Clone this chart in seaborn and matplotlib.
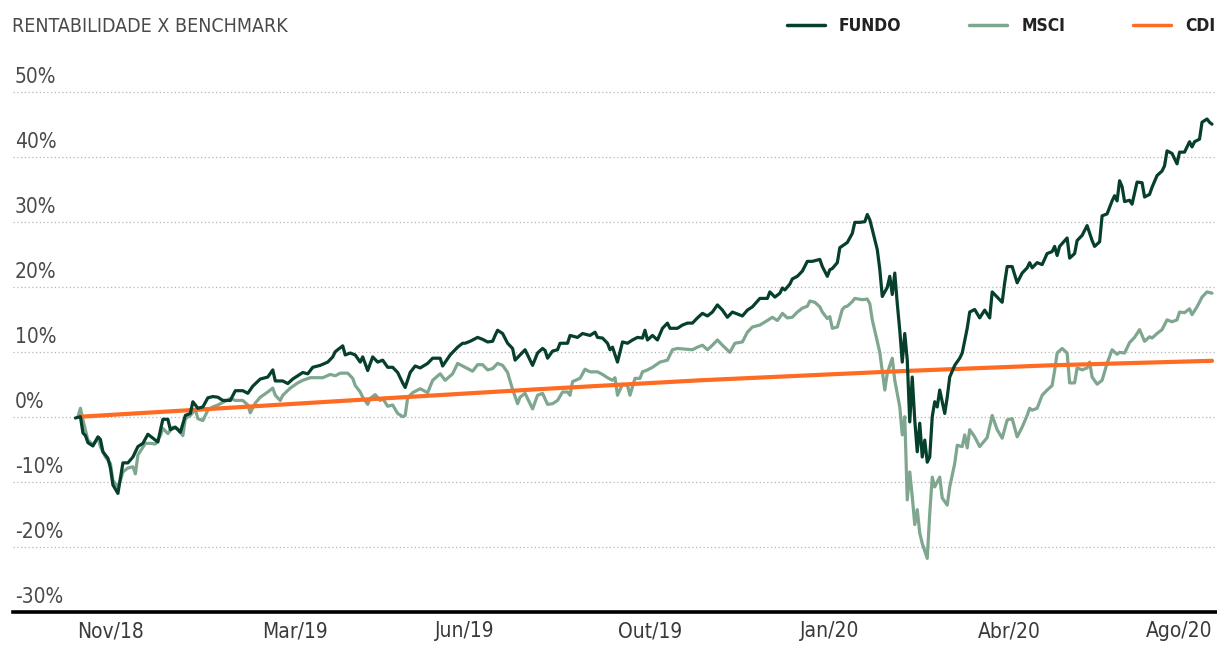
import pandas as pd
import matplotlib.pyplot as plt
import seaborn as sns

# rentabilidade acumulada (%) por pregão desde o início
dias_fundo = [0, 2, 3, 4, 5, 7, 9, 10, 11, 13, 14, 15, 17, 19, 21, 23, 25, 27, 29, 31,
              33, 34, 35, 37, 38, 40, 42, 44, 46, 47, 49, 51, 53, 55, 57, 59, 62, 64, 67, 69,
              71, 74, 77, 79, 80, 83, 85, 87, 89, 91, 93, 95, 98, 101, 103, 104, 107, 108, 110, 112,
              114, 115, 117, 119, 121, 123, 125, 127, 129, 131, 132, 134, 136, 138, 141, 143, 146, 147, 150, 153,
              155, 156, 158, 161, 163, 165, 167, 168, 169, 171, 173, 175, 176, 178, 180, 181, 183, 185, 187, 188,
              189, 191, 193, 194, 197, 198, 201, 203, 206, 208, 209, 211, 213, 214, 215, 217, 219, 221, 223, 225,
              227, 228, 229, 231, 233, 235, 237, 238, 241, 243, 245, 247, 249, 251, 253, 255, 257, 259, 261, 263,
              265, 267, 269, 271, 274, 277, 278, 280, 282, 283, 284, 286, 287, 289, 291, 293, 295, 298, 299, 301,
              302, 303, 305, 306, 309, 311, 312, 314, 316, 317, 318, 319, 321, 322, 323, 325, 326, 327, 328, 329,
              330, 331, 332, 333, 334, 335, 336, 337, 338, 339, 340, 341, 342, 343, 344, 345, 346, 347, 348, 349,
              350, 352, 354, 355, 357, 358, 360, 362, 364, 366, 367, 369, 371, 372, 373, 375, 377, 379, 381, 382,
              383, 385, 387, 389, 391, 392, 393, 394, 397, 398, 400, 401, 403, 405, 407, 408, 410, 411, 413, 415,
              416, 417, 418, 419, 420, 422, 423, 424, 425, 427, 428, 430, 431, 433, 435, 436, 437, 439, 441, 442,
              444, 446, 447, 448, 450, 451, 453, 454, 455]
fundo = [-0.2, 0.0, -2.5, -2.9, -4.0, -4.5, -3.1, -3.5, -5.4, -6.4, -7.9, -10.5, -11.8, -7.1, -7.1, -6.2, -4.6, -4.1, -2.7, -3.3,
         -3.9, -2.1, -0.4, -0.4, -2.0, -1.6, -2.4, 0.2, 0.5, 2.3, 1.3, 1.5, 2.9, 3.1, 3.0, 2.5, 2.5, 4.0, 4.0, 3.6,
         4.7, 5.8, 6.1, 7.2, 5.5, 5.5, 5.1, 5.8, 6.3, 6.8, 6.6, 7.6, 7.9, 8.4, 9.2, 10.0, 10.9, 9.5, 9.8, 9.5,
         8.4, 9.2, 7.1, 9.2, 8.4, 8.7, 7.6, 7.6, 6.8, 5.2, 4.5, 6.8, 7.8, 7.5, 8.2, 9.0, 9.0, 7.8, 9.5, 10.7,
         11.3, 11.3, 11.6, 12.2, 11.9, 11.5, 11.6, 12.5, 13.3, 12.8, 11.3, 10.5, 8.7, 9.5, 10.3, 9.5, 7.9, 9.8, 10.5, 10.2,
         9.0, 10.1, 10.3, 11.3, 11.3, 12.5, 12.2, 12.8, 12.5, 13.0, 12.2, 12.1, 11.3, 10.3, 10.7, 8.4, 11.5, 11.3, 11.8, 12.2,
         12.1, 13.3, 11.8, 12.5, 11.8, 13.6, 14.4, 13.6, 13.6, 14.1, 14.4, 14.4, 15.2, 15.9, 15.5, 16.1, 17.2, 16.4, 15.3, 16.1,
         15.8, 15.5, 16.4, 16.9, 18.2, 18.2, 19.2, 18.4, 19.0, 19.8, 19.5, 20.4, 21.2, 21.6, 22.4, 23.9, 23.9, 24.2, 23.1, 21.6,
         22.6, 22.8, 23.7, 26.0, 26.8, 28.2, 29.9, 29.9, 30.0, 31.1, 30.3, 28.8, 25.7, 22.7, 18.5, 19.9, 21.6, 18.8, 22.1, 17.4,
         13.3, 8.4, 12.8, 8.7, -0.8, 6.1, -0.5, -5.4, -1.0, -6.2, -3.6, -7.0, -6.2, 0.0, 2.3, 1.5, 4.1, 2.3, 0.5, 3.0,
         6.1, 7.9, 9.0, 9.8, 13.6, 16.1, 16.5, 15.2, 16.4, 15.2, 19.2, 18.4, 17.6, 20.6, 23.1, 23.1, 20.6, 22.1, 22.9, 23.7,
         22.9, 23.7, 23.4, 25.1, 25.4, 26.2, 24.8, 26.2, 27.5, 24.4, 25.1, 27.1, 27.9, 29.4, 27.1, 26.2, 26.9, 30.9, 31.2, 33.2,
         34.0, 33.2, 36.3, 35.4, 33.1, 33.3, 32.7, 34.4, 36.1, 36.0, 33.8, 34.2, 35.3, 37.1, 37.8, 38.6, 40.9, 40.5, 38.9, 40.7,
         40.7, 42.3, 41.5, 42.3, 42.7, 45.3, 45.8, 45.3, 45.0]

dias_msci = [1, 2, 3, 5, 7, 9, 10, 12, 14, 15, 17, 18, 19, 21, 23, 24, 25, 28, 30, 32,
             34, 35, 37, 39, 41, 43, 44, 46, 48, 49, 51, 53, 55, 57, 60, 62, 64, 67, 69, 70,
             72, 74, 77, 79, 80, 82, 83, 86, 89, 91, 94, 97, 99, 102, 104, 106, 109, 111, 112, 114,
             115, 117, 118, 120, 122, 123, 125, 127, 129, 131, 132, 133, 135, 138, 141, 143, 146, 148, 151, 153,
             156, 159, 161, 163, 165, 167, 169, 171, 173, 175, 177, 178, 180, 181, 183, 185, 187, 189, 191, 193,
             195, 197, 198, 199, 202, 204, 206, 209, 211, 213, 215, 216, 217, 219, 221, 222, 224, 226, 227, 229,
             231, 234, 237, 239, 241, 244, 247, 249, 251, 253, 255, 257, 259, 262, 264, 267, 269, 271, 274, 277,
             279, 281, 282, 283, 285, 287, 289, 291, 293, 294, 296, 298, 299, 301, 302, 303, 305, 307, 308, 309,
             311, 312, 315, 317, 318, 319, 322, 324, 325, 327, 328, 330, 331, 332, 333, 334, 335, 336, 337, 338,
             339, 341, 342, 343, 344, 346, 347, 349, 350, 352, 353, 355, 356, 357, 358, 360, 362, 365, 367, 369,
             371, 373, 375, 377, 379, 381, 382, 383, 385, 387, 389, 391, 392, 393, 395, 397, 398, 400, 401, 403,
             405, 406, 407, 409, 411, 413, 415, 417, 418, 420, 422, 424, 426, 428, 430, 431, 433, 435, 437, 439,
             441, 442, 444, 446, 447, 449, 451, 453, 455]
msci = [0.0, 1.3, -0.5, -3.6, -4.3, -3.3, -4.6, -6.2, -7.2, -9.8, -10.8, -9.8, -8.5, -7.9, -7.7, -8.8, -5.9, -4.1, -4.1, -4.2,
        -2.9, -1.8, -2.6, -1.6, -1.9, -2.9, -0.3, 0.2, 1.1, -0.3, -0.6, 1.0, 1.5, 1.8, 2.4, 2.8, 2.5, 2.5, 1.8, 0.6,
        2.1, 3.0, 3.8, 4.4, 3.3, 2.5, 3.3, 4.4, 5.2, 5.6, 6.0, 6.0, 6.0, 6.5, 6.3, 6.7, 6.7, 5.9, 4.8, 3.8,
        3.0, 1.9, 2.8, 3.4, 2.5, 2.8, 1.6, 1.8, 0.5, 0.0, 0.2, 2.9, 3.7, 4.3, 3.7, 5.6, 6.6, 5.6, 6.6, 8.2,
        7.6, 7.0, 8.0, 8.0, 7.2, 7.4, 8.2, 7.9, 6.8, 4.2, 2.0, 3.0, 3.6, 2.8, 1.2, 3.3, 3.6, 1.9, 2.0, 2.5,
        3.8, 3.8, 3.3, 5.4, 5.9, 7.3, 6.9, 6.9, 6.5, 6.0, 5.6, 6.0, 3.3, 5.0, 4.8, 3.3, 5.9, 5.9, 6.9, 7.2,
        7.6, 8.4, 8.7, 10.3, 10.5, 10.4, 10.3, 10.7, 11.0, 10.3, 11.0, 11.8, 11.0, 9.9, 11.3, 11.5, 13.0, 13.8, 14.1, 14.8,
        15.3, 14.8, 15.3, 15.9, 15.2, 15.3, 16.1, 16.7, 17.0, 17.8, 17.6, 16.9, 16.1, 15.1, 15.4, 13.6, 13.8, 16.5, 16.9, 17.0,
        17.7, 18.2, 18.0, 18.1, 17.4, 14.9, 9.9, 4.1, 6.7, 9.0, 5.6, 1.5, -2.8, 0.0, -12.8, -8.5, -12.3, -16.6, -14.3, -17.9,
        -19.5, -21.8, -14.9, -9.3, -10.8, -9.3, -12.5, -13.6, -10.8, -7.2, -4.4, -4.6, -2.8, -4.8, -2.0, -3.1, -4.6, -3.2, 0.2, -2.0,
        -3.3, -0.5, -0.3, -3.1, -1.6, 0.2, 1.3, 1.0, 1.3, 3.3, 4.1, 4.8, 7.1, 9.8, 10.5, 9.8, 5.2, 5.2, 7.5, 7.2,
        7.5, 8.4, 6.1, 5.0, 5.6, 8.2, 10.3, 9.6, 9.9, 9.8, 11.4, 12.2, 13.4, 11.6, 12.3, 12.1, 12.8, 13.4, 14.9, 14.6,
        14.9, 16.1, 16.0, 16.6, 15.7, 16.9, 18.4, 19.2, 19.0]

dias_cdi = [2, 50, 114, 184, 250, 330, 390, 455]
cdi = [0.0, 1.1, 2.6, 4.2, 5.6, 7.0, 7.9, 8.6]

ticks_dias = [14, 88, 156, 230, 302, 374, 442]
ticks_rotulos = ['Nov/18', 'Mar/19', 'Jun/19', 'Out/19', 'Jan/20', 'Abr/20', 'Ago/20']
niveis = [-20, -10, 0, 10, 20, 30, 40, 50]
rotulos_y = [-30, -20, -10, 0, 10, 20, 30, 40, 50]

cores = {'FUNDO': '#063f2b', 'MSCI': '#7fa68f', 'CDI': '#ff6b22'}
larguras = {'FUNDO': 2.3, 'MSCI': 2.3, 'CDI': 3.0}

df = pd.concat([
    pd.DataFrame({'dia': dias_msci, 'retorno': msci, 'serie': 'MSCI'}),
    pd.DataFrame({'dia': dias_cdi, 'retorno': cdi, 'serie': 'CDI'}),
    pd.DataFrame({'dia': dias_fundo, 'retorno': fundo, 'serie': 'FUNDO'}),
])

sns.set_style('white')
plt.rcParams['font.family'] = ['DejaVu Sans']
plt.rcParams['font.stretch'] = 'condensed'

fig = plt.figure(figsize=(12.17, 6.48), dpi=100)
ax = fig.add_axes([13 / 1217, 36.3 / 648, 1 - 13 / 1217, 533 / 648])

for serie in ['MSCI', 'CDI', 'FUNDO']:
    sns.lineplot(data=df[df['serie'] == serie], x='dia', y='retorno', color=cores[serie],
                 lw=larguras[serie], sort=False, estimator=None, ax=ax, zorder=3)

# grade pontilhada e rótulos do eixo y por cima da área do gráfico
for n in niveis:
    ax.axhline(n, color='#b5b5b5', lw=0.9, ls=(0, (1, 2)), zorder=1)
for n in rotulos_y:
    ax.text(0.0017, n + 0.7, f'{n}%', transform=ax.get_yaxis_transform(),
            va='bottom', ha='left', fontsize=15, color='#4a4a4a')

ax.set_xlim(-25, 457)
ax.set_ylim(-30, 52)
ax.set_yticks([])
ax.set_xticks(ticks_dias)
ax.set_xticklabels(ticks_rotulos, fontsize=15, color='#3a3a3a')
ax.tick_params(axis='x', length=0, pad=7)
ax.set_xlabel('')
ax.set_ylabel('')
for lado in ['top', 'right', 'left']:
    ax.spines[lado].set_visible(False)
ax.spines['bottom'].set_color('black')
ax.spines['bottom'].set_linewidth(2.6)

fig.text(12 / 1217, 1 - 26 / 648, 'RENTABILIDADE X BENCHMARK', va='center', ha='left',
         fontsize=14, color='#4a4a4a')

handles = [plt.Line2D([], [], color=cores[s], lw=2.5) for s in ['FUNDO', 'MSCI', 'CDI']]
ax.legend(handles, ['FUNDO', 'MSCI', 'CDI'], loc='center right', ncol=3, frameon=False,
          bbox_to_anchor=(1215 / 1217, 1 - 26 / 648), bbox_transform=fig.transFigure,
          borderaxespad=0, borderpad=0,
          handlelength=2.2, handletextpad=0.8, columnspacing=3.9,
          prop={'weight': 'bold', 'size': 12.5, 'stretch': 'condensed'}, labelcolor='#222222')

fig.savefig('out.png', dpi=100)
